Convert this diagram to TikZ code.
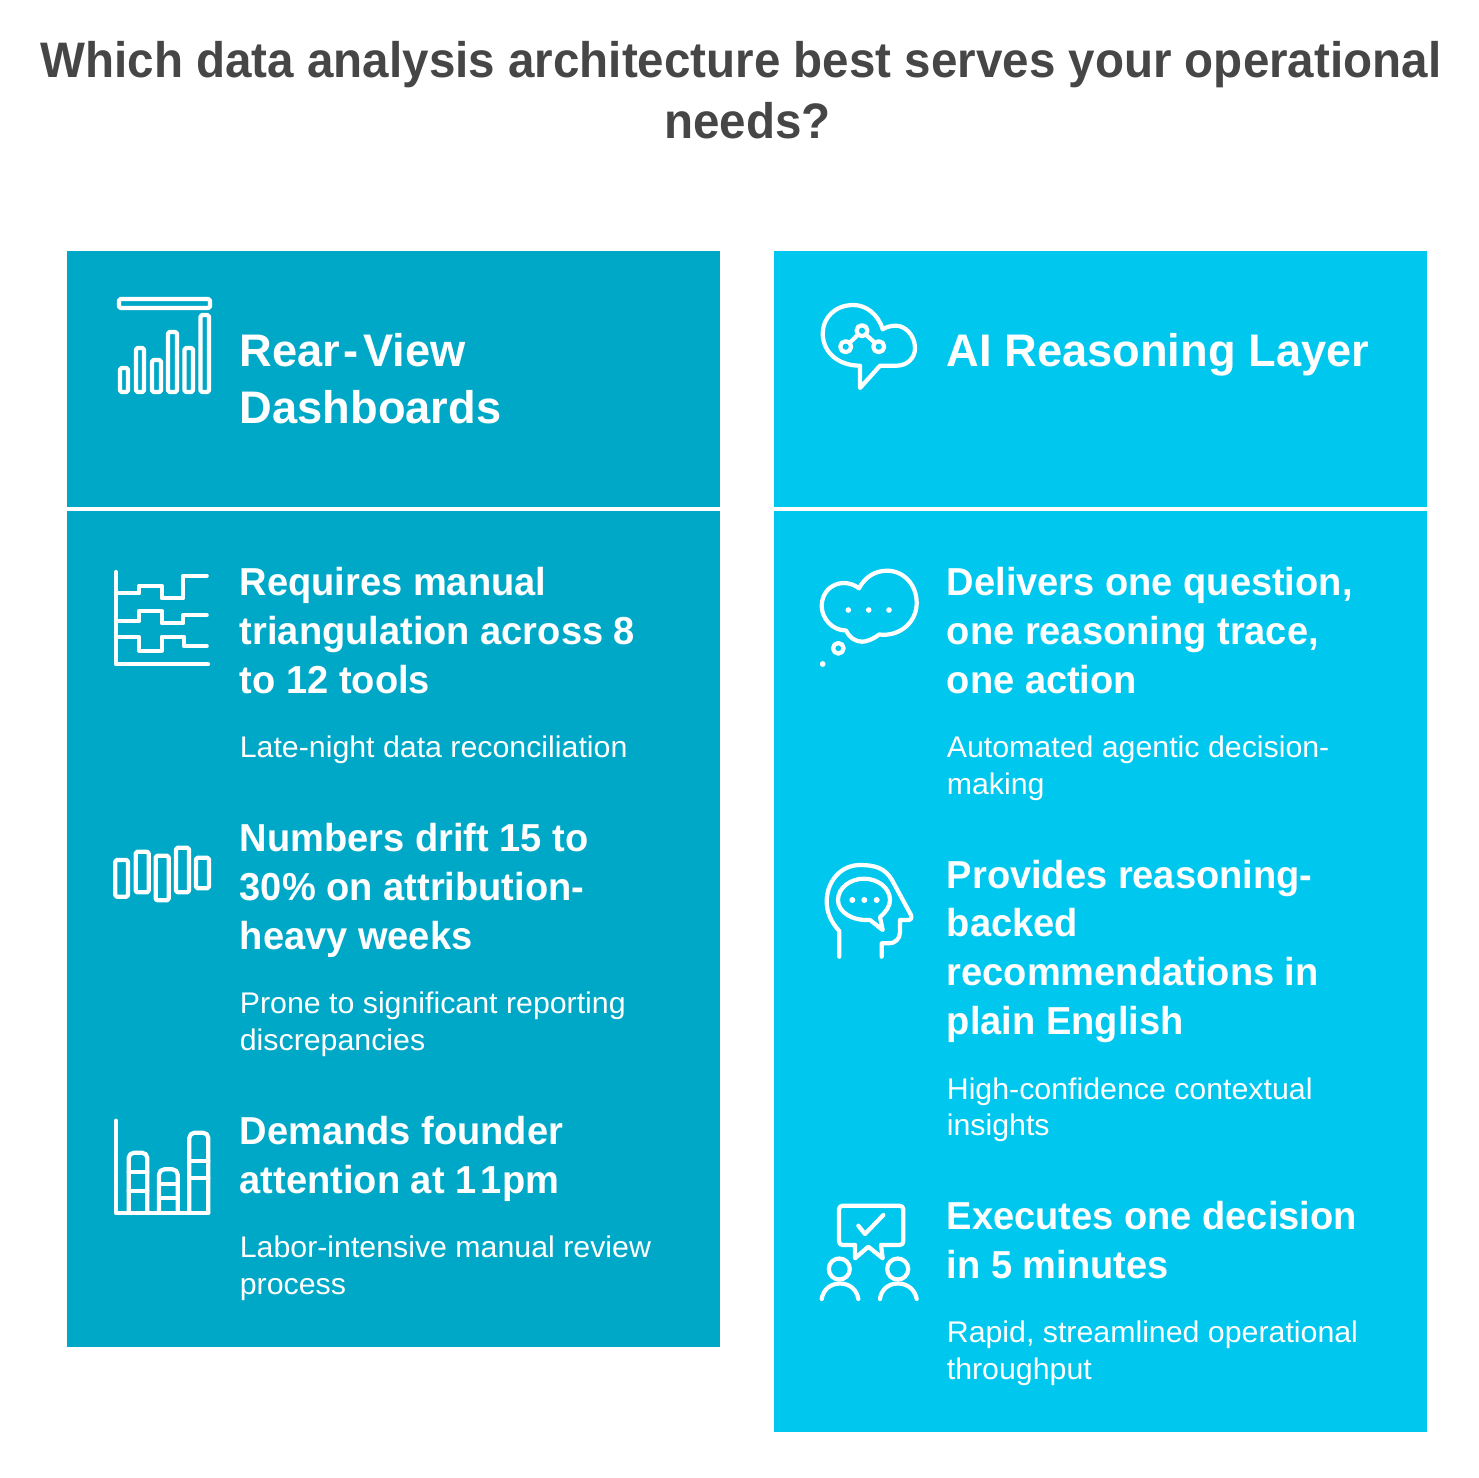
\documentclass[tikz,border=0pt]{standalone}
\usepackage{fontspec}
\setmainfont{Liberation Sans}
\newfontfamily\titleface[FakeStretch=0.953]{Liberation Sans Bold}
\newfontfamily\headface[FakeStretch=0.99]{Liberation Sans Bold}
\newfontfamily\pointface[FakeStretch=0.975]{Liberation Sans Bold}
\newfontfamily\plainface[FakeStretch=1.015]{Liberation Sans}
\definecolor{rearcolor}{RGB}{0,168,199}
\definecolor{aicolor}{RGB}{0,199,238}
\definecolor{titlecolor}{RGB}{70,70,70}
\tikzset{
  titletext/.style={anchor=base,inner sep=0pt,align=center,text=titlecolor,font=\titleface\fontsize{28.4}{34.6}\selectfont},
  headtext/.style={anchor=base west,inner sep=0pt,align=left,text=white,font=\headface\fontsize{26}{32.3}\selectfont},
  pointtext/.style={anchor=base west,inner sep=0pt,align=left,text=white,font=\pointface\fontsize{22.2}{27.7}\selectfont},
  subtext/.style={anchor=base west,inner sep=0pt,align=left,text=white,font=\plainface\fontsize{17}{20.7}\selectfont},
  iconline/.style={draw=white,line width=2.4pt,line cap=round,line join=round},
  iconbox/.style={iconline,rounded corners=0.9pt},
  icondot/.style={fill=white,draw=none},
}
\begin{document}
\begin{tikzpicture}[x=0.02cm,y=-0.02cm]
\useasboundingbox (0,0) rectangle (1479,1477);
% panels
\fill [rearcolor] (67,251) rectangle (720,506.5);
\fill [rearcolor] (67,510.5) rectangle (720,1347);
\fill [aicolor] (773.5,251) rectangle (1427,506.5);
\fill [aicolor] (773.5,510.5) rectangle (1427,1432);
% title
\node [titletext] (title) at (741,138.5) {Which data analysis architecture best serves your operational\\\hspace*{7.4pt}needs?};
% left texts
\node [headtext] (rearhead) at (239.5,423) {Rear\kern2pt-\kern2.5pt View\\Dashboards};
\node [pointtext] (rearone) at (239.5,693) {Requires manual\\triangulation across 8\\to 12 tools};
\node [subtext] (rearonesub) at (239.5,757) {Late-night data reconciliation};
\node [pointtext] (reartwo) at (239.5,949) {Numbers drift 15 to\\30\% on attribution-\\heavy weeks};
\node [subtext] (reartwosub) at (239.5,1050) {Prone to significant reporting\\discrepancies};
\node [pointtext] (rearthree) at (239.5,1193) {Demands founder\\attention at 1\kern2.5pt 1pm};
\node [subtext] (rearthreesub) at (239.5,1294) {Labor-intensive manual review\\process};
% right texts
\node [headtext] (aihead) at (946.5,366) {AI Reasoning Layer};
\node [pointtext] (aione) at (946.5,693) {Delivers one question,\\one reasoning trace,\\one action};
\node [subtext] (aionesub) at (946.5,794) {Automated agentic decision-\\making};
\node [pointtext] (aitwo) at (946.5,1034) {Provides reasoning-\\backed\\recommendations in\\plain English};
\node [subtext] (aitwosub) at (946.5,1135.5) {High-confidence contextual\\insights};
\node [pointtext] (aithree) at (946.5,1278) {Executes one decision\\in 5 minutes};
\node [subtext] (aithreesub) at (946.5,1379) {Rapid, streamlined operational\\throughput};
% icon: bars
\draw [iconbox] (119,299) rectangle (210,308);
\draw [iconbox] (120,368) rectangle (128,392);
\draw [iconbox] (136,348) rectangle (144,392);
\draw [iconbox] (152,360) rectangle (161,392);
\draw [iconbox] (168,332) rectangle (177,392);
\draw [iconbox] (184.5,348) rectangle (193,392);
\draw [iconbox] (200.5,315) rectangle (209,392);
% icon: step lines
\draw [iconline] (116,572) -- (116,664.3) -- (208,664.3);
\draw [iconline] (116,593.3) -- (139.3,593.3) -- (139.3,585.7) -- (161.7,585.7) -- (161.7,598.3) -- (183.3,598.3) -- (183.3,575.7) -- (206.7,575.7);
\draw [iconline] (116,621) -- (139.3,621) -- (139.3,610.7) -- (161.7,610.7) -- (161.7,623.3) -- (183.3,623.3) -- (183.3,615) -- (206.7,615);
\draw [iconline] (116,637.3) -- (139.3,637.3) -- (139.3,650.7) -- (161.7,650.7) -- (161.7,636.7) -- (184,636.7) -- (184,646) -- (206.7,646);
% icon: floating bars
\draw [iconbox] (115.3,860) rectangle (128,896.7);
\draw [iconbox] (135.7,851.7) rectangle (148.7,892.3);
\draw [iconbox] (155.7,855.7) rectangle (168.7,900.3);
\draw [iconbox] (176,847.7) rectangle (189,892.3);
\draw [iconbox] (196,857.7) rectangle (209,888.3);
% icon: stacked bars
\draw [iconline] (116,1120.7) -- (116,1212.7) -- (208.3,1212.7);
\draw [iconline,rounded corners=3pt] (128.7,1212.7) -- (128.7,1152.7) -- (147.3,1152.7) -- (147.3,1212.7);
\draw [iconline] (128.7,1171.7) -- (147.3,1171.7);
\draw [iconline] (128.7,1190.7) -- (147.3,1190.7);
\draw [iconline,rounded corners=3pt] (159,1212.7) -- (159,1169.3) -- (177.7,1169.3) -- (177.7,1212.7);
\draw [iconline] (159,1184) -- (177.7,1184);
\draw [iconline] (159,1197.7) -- (177.7,1197.7);
\draw [iconline,rounded corners=3pt] (189.3,1212.7) -- (189.3,1132.7) -- (208.3,1132.7) -- (208.3,1212.7);
\draw [iconline] (189.3,1160.7) -- (208.3,1160.7);
\draw [iconline] (189.3,1177.7) -- (208.3,1177.7);
% icon: cloud bubble
\draw [iconline] (882.7,329.3) .. controls (878,314) and (866,305) .. (853.3,305)
  .. controls (835,305) and (822.7,318) .. (822.7,333.3)
  .. controls (822.7,352) and (838,365.7) .. (860,365.7)
  -- (860,388) -- (880,365.7) -- (896.7,365.7)
  .. controls (907,365.7) and (915,358) .. (915,348.3)
  .. controls (915,335) and (905,325.7) .. (896,325.7)
  .. controls (891,325.7) and (886,327) .. (882.7,329.3) -- cycle;
\draw [iconline] (862,330.7) circle [radius=5.5];
\draw [iconline] (845.7,346.7) circle [radius=5.5];
\draw [iconline] (878.7,346.7) circle [radius=5.5];
\draw [iconline] (857.8,334.9) -- (849.9,342.5);
\draw [iconline] (866.2,334.9) -- (874.5,342.5);
% icon: thought cloud
\draw [iconline] (859,588.3) .. controls (865,577) and (875,570.7) .. (887,570.7)
  .. controls (904,570.7) and (916.7,585) .. (916.7,603)
  .. controls (916.7,622) and (900,637) .. (879,634.5)
  .. controls (873,639.5) and (866,641.7) .. (862,641.7)
  .. controls (855,641.7) and (849,637) .. (846,630.5)
  .. controls (832,630.5) and (821.7,618) .. (821.7,606)
  .. controls (821.7,593) and (831,583) .. (844,583)
  .. controls (849,583) and (855,585) .. (859,588.3) -- cycle;
\fill [icondot] (848.3,610) circle [radius=2.8];
\fill [icondot] (868.7,610) circle [radius=2.8];
\fill [icondot] (889,610) circle [radius=2.8];
\draw [iconline] (838.3,648.3) circle [radius=5.3];
\fill [icondot] (822.7,664) circle [radius=2.9];
% icon: head
\draw [iconline] (839.3,956.7) -- (839.3,931) .. controls (831,922) and (826.7,912) .. (826.7,901.7)
  .. controls (826.7,881) and (841,865) .. (860,865)
  .. controls (875,865) and (885,868) .. (892,880)
  -- (911,915) .. controls (912,918) and (911,920) .. (908,920)
  -- (900,920) -- (900,932) .. controls (900,939) and (895,943.3) .. (889,943.3)
  -- (881.7,943.3) -- (881.7,956.7);
\draw [iconline] (880,917) .. controls (886,912) and (890,906) .. (890,900)
  .. controls (890,888) and (878,878.7) .. (864,878.7)
  .. controls (850,878.7) and (838,888) .. (838,900)
  .. controls (838,912) and (852,921) .. (870,920)
  -- (882.7,930) -- cycle;
\fill [icondot] (852.3,900) circle [radius=3];
\fill [icondot] (864.3,900) circle [radius=3];
\fill [icondot] (876.7,900) circle [radius=3];
% icon: two people
\draw [iconline,rounded corners=2pt] (855,1245) -- (839,1245) -- (839,1205.7) -- (903.3,1205.7) -- (903.3,1245) -- (881,1245);
\draw [iconline] (855,1245) -- (855,1258.3) -- (868.3,1246.7) -- (882.7,1258.3) -- (881,1245);
\draw [iconline] (858.3,1225.7) -- (865,1234) -- (883.3,1215);
\draw [iconline] (839.3,1269) circle [radius=10.5];
\draw [iconline] (897.7,1269) circle [radius=10.5];
\draw [iconline] (821.7,1299) .. controls (823,1290) and (830,1283.5) .. (840,1283.5) .. controls (850,1283.5) and (857,1290) .. (858.3,1299);
\draw [iconline] (880,1299) .. controls (881,1290) and (888,1283.5) .. (898,1283.5) .. controls (908,1283.5) and (915,1290) .. (916.7,1299);
\end{tikzpicture}
\end{document}
